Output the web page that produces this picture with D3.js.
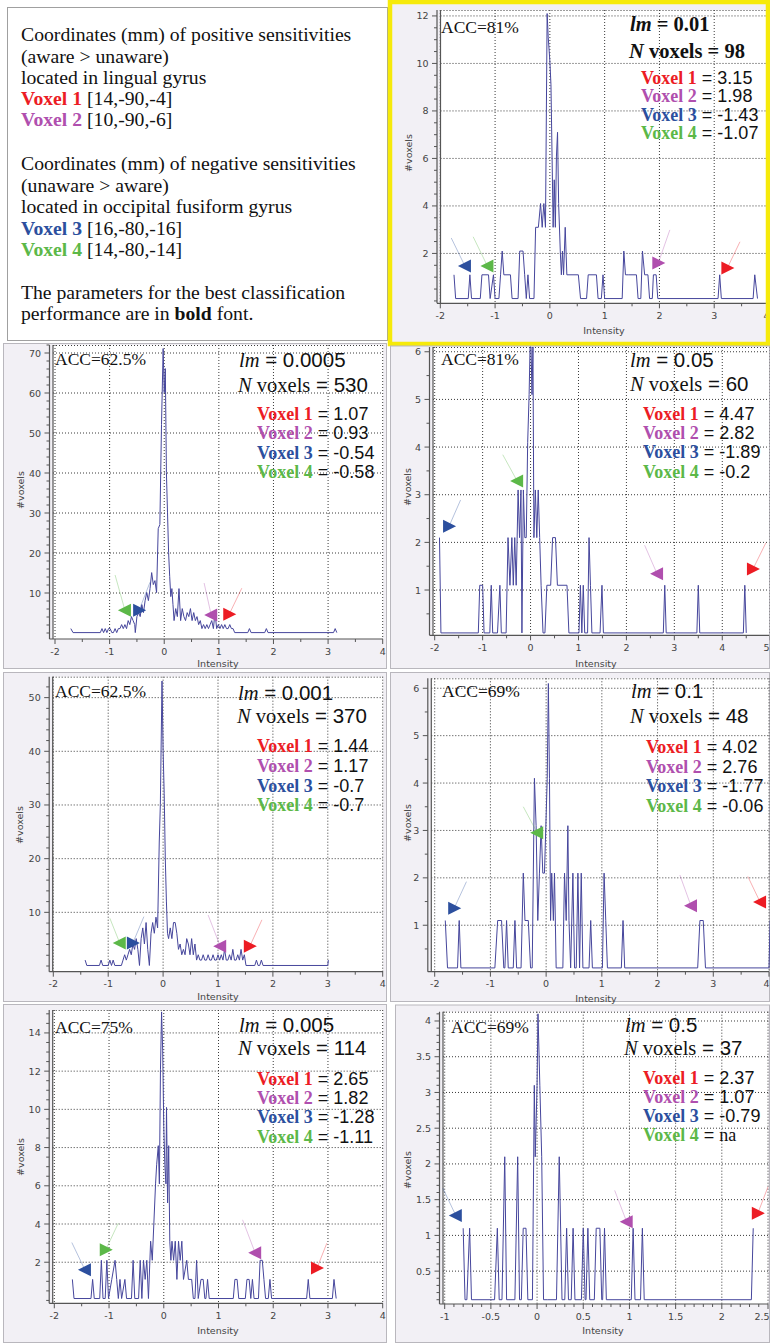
<!DOCTYPE html>
<html><head><meta charset="utf-8">
<script src="https://cdn.jsdelivr.net/npm/d3@7"></script>
<style>
html,body{margin:0;padding:0;background:#fff;}
svg{display:block;}
</style></head><body>
<svg id="chart" width="770" height="1343"></svg>
<script>
// ---------------- DATA ----------------
const voxelNames = ["Voxel 1", "Voxel 2", "Voxel 3", "Voxel 4"];
const voxelCoords = ["[14,-90,-4]", "[10,-90,-6]", "[16,-80,-16]", "[14,-80,-14]"];

const accuracy = ["81%", "62.5%", "81%", "62.5%", "69%", "75%", "69%"];
const lmValues = ["0.01", "0.0005", "0.05", "0.001", "0.1", "0.005", "0.5"];
const nVoxels = ["98", "530", "60", "370", "48", "114", "37"];
const voxel1Values = ["3.15", "1.07", "4.47", "1.44", "4.02", "2.65", "2.37"];
const voxel2Values = ["1.98", "0.93", "2.82", "1.17", "2.76", "1.82", "1.07"];
const voxel3Values = ["-1.43", "-0.54", "-1.89", "-0.7", "-1.77", "-1.28", "-0.79"];
const voxel4Values = ["-1.07", "-0.58", "-0.2", "-0.7", "-0.06", "-1.11", "na"];
const bestPanel = 0;

// tick labels
const xTicksWide = [-2, -1, 0, 1, 2, 3, 4];
const xTicksC = [-2, -1, 0, 1, 2, 3, 4, 5];
const xTicksG = [-1, -0.5, 0, 0.5, 1, 1.5, 2, 2.5];
const yTicksA = [2, 4, 6, 8, 10, 12];
const yTicksB = [10, 20, 30, 40, 50, 60, 70];
const yTicksC = [1, 2, 3, 4, 5, 6];
const yTicksD = [10, 20, 30, 40, 50];
const yTicksE = [1, 2, 3, 4, 5, 6];
const yTicksF = [2, 4, 6, 8, 10, 12, 14];
const yTicksG = [0.5, 1, 1.5, 2, 2.5, 3, 3.5, 4];

// histograms: [intensity, #voxels]
const histA = [[-1.75,1],[-1.72,0],[-1.49,0],[-1.46,1],[-1.43,0],[-1.27,0],[-1.24,1],[-1.12,1],[-1.09,0],[-1.03,1],[-1.00,0],[-0.93,0],[-0.90,1],[-0.87,2],[-0.84,1],[-0.72,1],[-0.69,0],[-0.58,0],[-0.55,2],[-0.49,2],[-0.46,1],[-0.43,0],[-0.40,1],[-0.37,0],[-0.29,0],[-0.26,3],[-0.21,3],[-0.17,4],[-0.14,3],[-0.11,4],[-0.08,3],[-0.05,12],[-0.03,11],[0.00,10],[0.02,9],[0.04,6],[0.06,3],[0.08,5],[0.10,3],[0.12,6],[0.14,7],[0.16,4],[0.19,2],[0.21,1],[0.23,2],[0.25,1],[0.28,3],[0.31,1],[0.52,1],[0.56,0],[0.67,0],[0.70,1],[0.85,1],[0.88,0],[0.94,0],[0.97,1],[1.00,0],[1.32,0],[1.35,2],[1.38,1],[1.43,1],[1.58,1],[1.61,0],[1.66,0],[1.69,2],[1.73,1],[1.79,1],[1.82,0],[1.87,0],[1.89,1],[1.94,1],[1.97,0],[3.07,0],[3.10,1],[3.13,0],[3.71,0],[3.74,1],[3.79,0]];
const histB = [[-1.71,1],[-1.67,0],[-1.17,0],[-1.14,1],[-1.11,0],[-1.08,1],[-1.05,0],[-1.02,1],[-0.99,1],[-0.96,0],[-0.93,0],[-0.90,1],[-0.87,0],[-0.84,1],[-0.81,1],[-0.78,2],[-0.75,1],[-0.72,2],[-0.69,1],[-0.66,3],[-0.63,2],[-0.60,4],[-0.57,3],[-0.54,2],[-0.53,0],[-0.50,4],[-0.47,5],[-0.44,4],[-0.41,7],[-0.38,5],[-0.35,8],[-0.32,10],[-0.29,8],[-0.26,11],[-0.23,15],[-0.20,12],[-0.17,13],[-0.14,10],[-0.11,26],[-0.08,27],[-0.05,52],[-0.02,71],[0.00,60],[0.02,66],[0.04,40],[0.06,30],[0.08,20],[0.10,14],[0.12,9],[0.14,11],[0.16,7],[0.18,3],[0.21,6],[0.24,4],[0.27,11],[0.30,3],[0.33,6],[0.36,4],[0.39,3],[0.42,5],[0.45,4],[0.48,6],[0.51,3],[0.54,5],[0.57,3],[0.60,4],[0.63,2],[0.66,3],[0.69,1],[0.72,2],[0.75,1],[0.78,2],[0.81,1],[0.84,2],[0.87,3],[0.90,1],[0.93,5],[0.96,1],[0.99,2],[1.02,1],[1.05,2],[1.08,1],[1.11,2],[1.14,1],[1.17,1],[1.20,2],[1.23,1],[1.26,1],[1.29,0],[1.53,0],[1.56,1],[1.59,0],[1.84,0],[1.87,1],[1.90,0],[3.10,0],[3.13,1],[3.16,0]];
const histC = [[-1.90,2],[-1.87,0],[-1.09,0],[-1.06,1],[-1.00,1],[-0.97,0],[-0.85,0],[-0.82,1],[-0.79,0],[-0.69,0],[-0.64,1],[-0.61,0],[-0.51,0],[-0.47,2],[-0.43,1],[-0.39,2],[-0.36,1],[-0.33,2],[-0.30,1],[-0.26,3],[-0.23,2],[-0.20,3],[-0.18,0],[-0.15,3],[-0.12,2],[-0.09,2],[-0.06,4],[-0.03,5],[-0.01,6],[0.01,6],[0.03,5],[0.05,6],[0.07,2],[0.10,3],[0.13,2],[0.16,3],[0.19,2],[0.22,1],[0.26,0],[0.30,0],[0.34,1],[0.42,1],[0.46,2],[0.52,2],[0.56,1],[0.76,1],[0.80,0],[1.01,0],[1.04,1],[1.07,0],[1.10,1],[1.13,0],[1.19,0],[1.22,2],[1.25,1],[1.28,0],[1.45,0],[1.49,1],[1.52,0],[2.77,0],[2.80,1],[2.83,0],[3.47,0],[3.50,1],[3.53,0],[4.44,0],[4.47,1],[4.50,0]];
const histD = [[-1.42,1],[-1.39,0],[-1.16,0],[-1.13,1],[-1.10,0],[-1.00,0],[-0.97,1],[-0.94,0],[-0.91,1],[-0.88,0],[-0.76,0],[-0.73,1],[-0.70,2],[-0.67,1],[-0.64,2],[-0.61,3],[-0.58,2],[-0.55,4],[-0.52,3],[-0.49,5],[-0.46,3],[-0.43,0],[-0.40,5],[-0.37,7],[-0.34,4],[-0.31,8],[-0.28,3],[-0.25,0],[-0.22,6],[-0.19,8],[-0.16,6],[-0.13,9],[-0.10,7],[-0.07,23],[-0.05,30],[-0.02,53],[0.00,40],[0.02,32],[0.04,20],[0.06,12],[0.08,6],[0.10,5],[0.13,7],[0.16,5],[0.19,8],[0.22,8],[0.25,6],[0.28,3],[0.31,4],[0.34,2],[0.37,3],[0.40,2],[0.43,5],[0.46,4],[0.49,2],[0.52,5],[0.55,2],[0.58,4],[0.61,1],[0.64,2],[0.67,1],[0.70,1],[0.73,2],[0.76,1],[0.79,1],[0.82,2],[0.85,1],[0.88,1],[0.91,2],[0.94,1],[0.97,1],[1.00,2],[1.03,1],[1.06,2],[1.09,1],[1.12,3],[1.15,1],[1.18,1],[1.21,2],[1.24,1],[1.27,3],[1.30,1],[1.33,1],[1.36,2],[1.39,1],[1.42,3],[1.45,1],[1.48,2],[1.51,0],[1.67,0],[1.70,1],[1.73,0],[1.76,0],[1.79,1],[1.82,0],[3.00,0],[3.01,1]];
const histE = [[-1.81,1],[-1.77,0],[-1.59,0],[-1.56,1],[-1.53,0],[-0.92,0],[-0.87,1],[-0.80,1],[-0.76,0],[-0.74,0],[-0.71,1],[-0.68,0],[-0.59,0],[-0.56,1],[-0.53,0],[-0.45,0],[-0.41,2],[-0.38,1],[-0.32,1],[-0.28,0],[-0.25,0],[-0.21,4],[-0.18,3],[-0.15,1],[-0.12,2],[-0.09,3],[-0.06,2],[-0.03,2],[0.02,4],[0.04,6],[0.06,4],[0.08,1],[0.10,2],[0.13,1],[0.15,2],[0.18,0],[0.30,0],[0.33,2],[0.36,1],[0.39,3],[0.41,1],[0.44,0],[0.48,2],[0.51,0],[0.54,0],[0.57,2],[0.60,0],[0.63,2],[0.66,0],[0.77,0],[0.80,1],[0.83,0],[1.01,0],[1.04,2],[1.07,1],[1.10,0],[1.35,0],[1.38,1],[1.41,0],[2.72,0],[2.76,1],[2.82,1],[2.86,0],[4.00,0],[4.02,1]];
const histF = [[-1.67,1],[-1.64,0],[-1.33,0],[-1.30,1],[-1.27,0],[-1.17,0],[-1.14,2],[-1.11,0],[-1.07,0],[-1.04,2],[-1.01,0],[-0.95,1],[-0.89,2],[-0.86,1],[-0.83,0],[-0.80,1],[-0.77,0],[-0.71,1],[-0.68,0],[-0.59,0],[-0.56,2],[-0.53,0],[-0.46,0],[-0.43,2],[-0.40,0],[-0.37,2],[-0.34,1],[-0.31,2],[-0.28,0],[-0.24,3],[-0.21,2],[-0.18,4],[-0.15,6],[-0.13,7],[-0.10,8],[-0.08,6],[-0.06,12],[-0.04,15],[-0.02,13],[0.00,9],[0.02,7],[0.04,6],[0.05,10],[0.07,5],[0.09,8],[0.11,3],[0.13,2],[0.15,3],[0.18,2],[0.21,3],[0.24,1],[0.27,3],[0.30,2],[0.33,3],[0.36,1],[0.42,2],[0.45,1],[0.51,1],[0.54,0],[0.57,0],[0.60,2],[0.63,0],[0.68,1],[0.72,1],[0.75,0],[0.77,0],[0.80,1],[0.83,0],[1.27,0],[1.30,1],[1.34,1],[1.37,0],[1.49,0],[1.52,1],[1.56,1],[1.59,0],[1.62,1],[1.65,0],[1.73,0],[1.76,2],[1.80,2],[1.83,1],[1.86,0],[1.91,0],[1.94,1],[1.97,0],[2.61,0],[2.64,1],[2.67,0],[3.08,0],[3.11,1],[3.15,0]];
const histG = [[-0.80,1],[-0.78,0],[-0.76,0],[-0.73,1],[-0.71,0],[-0.46,0],[-0.43,1],[-0.41,0],[-0.38,0],[-0.35,2],[-0.33,0],[-0.24,0],[-0.21,2],[-0.19,0],[-0.17,0],[-0.15,1],[-0.12,1],[-0.10,0],[-0.05,0],[-0.03,3],[-0.02,2],[0.00,3],[0.01,4],[0.03,3],[0.05,2],[0.07,0],[0.11,0],[0.21,0],[0.24,2],[0.27,0],[0.30,0],[0.32,1],[0.34,0],[0.37,0],[0.39,1],[0.41,0],[0.48,0],[0.50,1],[0.52,0],[0.53,0],[0.55,1],[0.57,0],[0.62,0],[0.64,1],[0.68,1],[0.70,0],[0.71,0],[0.73,1],[0.75,0],[1.02,0],[1.04,1],[1.06,0],[1.12,0],[1.14,1],[1.16,0],[2.32,0],[2.34,1]];

// voxel arrows: voxel index, arrow head [intensity, #voxels], arrow tail, head direction
const arrowsA = [{v:3, at:[-1.55,1.47], from:[-1.80,2.65], dir:"L"},{v:4, at:[-1.14,1.47], from:[-1.40,2.70], dir:"L"},{v:2, at:[1.98,1.60], from:[2.19,2.99], dir:"R"},{v:1, at:[3.24,1.39], from:[3.47,2.49], dir:"R"}];
const arrowsB = [{v:4, at:[-0.72,5.7], from:[-0.90,14.5], dir:"L"},{v:3, at:[-0.46,5.7], from:[-0.26,12.7], dir:"R"},{v:2, at:[0.86,4.5], from:[0.73,12.5], dir:"L"},{v:1, at:[1.19,4.7], from:[1.42,11.2], dir:"R"}];
const arrowsC = [{v:3, at:[-1.70,2.34], from:[-1.46,2.89], dir:"R"},{v:4, at:[-0.28,3.29], from:[-0.58,3.84], dir:"L"},{v:2, at:[2.64,1.34], from:[2.38,1.94], dir:"L"},{v:1, at:[4.64,1.44], from:[4.91,1.99], dir:"R"}];
const arrowsD = [{v:4, at:[-0.79,4.3], from:[-0.97,8.9], dir:"L"},{v:3, at:[-0.55,4.3], from:[-0.35,9.2], dir:"R"},{v:2, at:[1.04,3.7], from:[0.82,9.5], dir:"L"},{v:1, at:[1.58,3.7], from:[1.80,8.6], dir:"R"}];
const arrowsE = [{v:3, at:[-1.65,1.36], from:[-1.43,1.92], dir:"R"},{v:4, at:[-0.16,2.95], from:[-0.41,3.50], dir:"L"},{v:2, at:[2.60,1.41], from:[2.40,2.06], dir:"L"},{v:1, at:[3.84,1.49], from:[3.62,2.03], dir:"L"}];
const arrowsF = [{v:3, at:[-1.44,1.6], from:[-1.68,3.03], dir:"L"},{v:4, at:[-1.06,2.65], from:[-0.83,4.05], dir:"R"},{v:2, at:[1.67,2.49], from:[1.44,4.22], dir:"L"},{v:1, at:[2.80,1.70], from:[2.98,3.0], dir:"R"}];
const arrowsG = [{v:3, at:[-0.88,1.28], from:[-1.02,1.66], dir:"L"},{v:2, at:[0.97,1.19], from:[0.84,1.63], dir:"L"},{v:1, at:[2.39,1.31], from:[2.50,1.68], dir:"R"}];

// ---------------- LAYOUT / STYLE ----------------
const OFFSET = 0.1; // the source plots draw each count raised by 0.1
const SERIF = "'Liberation Serif','Times New Roman',serif";
const SANS = "'Liberation Sans',Arial,sans-serif";
const TICKFONT = "'DejaVu Sans',Verdana,sans-serif";
const voxelColors = ["#ec1c24", "#b04fae", "#2c4f9e", "#5cb848"];
const panelBg = "#f2f0f5";
const lineColor = "#46469c";

const layout = [
  {bg:[390,2,378,342], xr:[440.3,769], yd:[-0.1,12.25], yr:[303.3,10], axisX:440.5, right:769, xMinor:0.5, yMinor:0.5,
   acc:[441,33.3], lm:[630,30.7], nv:[629,58.3], vox:[641,84,18.4], ylab:[409,153], xlab:[604,331]},
  {bg:[3.5,343.5,383,325], xr:[55,382.7], yd:[-1.5,72], yr:[639,345], axisX:53, right:383, xMinor:0.5, yMinor:2,
   acc:[55,365], lm:[239,367.3], nv:[238,391.7], vox:[257,420,19.4], ylab:[21,490], xlab:[218,664]},
  {bg:[390.5,346,379,322.5], xr:[434.7,770.2], yd:[0.05,6.1], yr:[635.3,347], axisX:433, right:769, xMinor:0.5, yMinor:0.5,
   acc:[441,365], lm:[630,367.3], nv:[630,390.7], vox:[643,420,19.2], ylab:[408,487], xlab:[596,664]},
  {bg:[3.5,672.5,383,329], xr:[53.3,382.7], yd:[-1.06,53.9], yr:[971.7,676.7], axisX:52.7, right:383, xMinor:0.5, yMinor:2,
   acc:[55,696.7], lm:[238,700], nv:[237,722.7], vox:[257,752.3,19.6], ylab:[20,825], xlab:[218,997]},
  {bg:[390.5,672.5,379,329], xr:[434.7,769], yd:[0.02,6.21], yr:[971.7,678.3], axisX:431.3, right:769, xMinor:0.5, yMinor:0.5,
   acc:[442,696.7], lm:[631,698.3], nv:[630,722.7], vox:[646,753.3,19.5], ylab:[408,823], xlab:[596,999]},
  {bg:[3.5,1004.5,383,338], xr:[54.3,382.7], yd:[-0.15,15.2], yr:[1303.3,1010], axisX:52.7, right:383, xMinor:0.5, yMinor:0.5,
   acc:[55,1033.3], lm:[239,1031.7], nv:[238,1055], vox:[257,1085,19.2], ylab:[21,1157], xlab:[218,1331]},
  {bg:[395.5,1005,374,337.5], xr:[444.7,768], yd:[0.04,4.13], yr:[1304,1011.7], axisX:443, right:768, xMinor:0.1, yMinor:0.1,
   acc:[451,1033.3], lm:[625,1031.7], nv:[624,1055], vox:[643,1084,18.9], ylab:[408,1170], xlab:[603,1331]}
];

const xTicksList = [xTicksWide, xTicksWide, xTicksC, xTicksWide, xTicksWide, xTicksWide, xTicksG];
const yTicksList = [yTicksA, yTicksB, yTicksC, yTicksD, yTicksE, yTicksF, yTicksG];
const histList = [histA, histB, histC, histD, histE, histF, histG];
const arrowList = [arrowsA, arrowsB, arrowsC, arrowsD, arrowsE, arrowsF, arrowsG];

const svg = d3.select("#chart");
svg.append("rect").attr("width", 770).attr("height", 1343).attr("fill", "#fff");

// ---------------- INFO BOX ----------------
svg.append("rect").attr("x", 7.5).attr("y", 7.5).attr("width", 380).attr("height", 333)
  .attr("fill", "#fff").attr("stroke", "#a0a0a0");

const infoLines = [
  {y:40.7, segs:[{t:"Coordinates (mm) of positive sensitivities"}]},
  {y:62.5, segs:[{t:"(aware > unaware)"}]},
  {y:83.8, segs:[{t:"located in lingual gyrus"}]},
  {y:105, segs:[{t:voxelNames[0], c:0, b:true}, {t:" " + voxelCoords[0]}]},
  {y:126, segs:[{t:voxelNames[1], c:1, b:true}, {t:" " + voxelCoords[1]}]},
  {y:170, segs:[{t:"Coordinates (mm) of negative sensitivities"}]},
  {y:191.5, segs:[{t:"(unaware > aware)"}]},
  {y:213, segs:[{t:"located in occipital fusiform gyrus"}]},
  {y:234.5, segs:[{t:voxelNames[2], c:2, b:true}, {t:" " + voxelCoords[2]}]},
  {y:256, segs:[{t:voxelNames[3], c:3, b:true}, {t:" " + voxelCoords[3]}]},
  {y:298.5, segs:[{t:"The parameters for the best classification"}]},
  {y:320, segs:[{t:"performance are in "}, {t:"bold", b:true}, {t:" font."}]}
];
infoLines.forEach(L => {
  const tx = svg.append("text").attr("x", 21).attr("y", L.y)
    .attr("font-family", SERIF).attr("font-size", 19.7).attr("fill", "#111");
  L.segs.forEach(s => {
    tx.append("tspan").text(s.t)
      .attr("font-weight", s.b ? "bold" : null)
      .attr("fill", s.c !== undefined ? voxelColors[s.c] : null);
  });
});

// ---------------- PANELS ----------------
function rangeTicks(a, b, step) {
  const out = [];
  const n = Math.round((b - a) / step);
  for (let i = 0; i <= n; i++) out.push(Math.round((a + i * step) * 1000) / 1000);
  return out;
}

layout.forEach((L, i) => {
  const g = svg.append("g");
  const best = i === bestPanel;
  const xt = xTicksList[i], yt = yTicksList[i];
  const x = d3.scaleLinear().domain([xt[0], xt[xt.length - 1]]).range(L.xr);
  const y = d3.scaleLinear().domain(L.yd).range(L.yr);
  const left = L.axisX, right = L.right, top = L.yr[1], bottom = L.yr[0];

  g.append("rect").attr("x", L.bg[0]).attr("y", L.bg[1]).attr("width", L.bg[2]).attr("height", L.bg[3])
    .attr("fill", panelBg).attr("stroke", best ? "none" : "#b9b7bd");

  g.append("rect").attr("x", left).attr("y", top).attr("width", right - left).attr("height", bottom - top)
    .attr("fill", "#fff");

  // dotted grid
  const grid = g.append("g").attr("stroke", "#3a3a3a").attr("stroke-width", 1).attr("stroke-dasharray", "1,2");
  xt.forEach(t => grid.append("line").attr("x1", x(t)).attr("x2", x(t)).attr("y1", top).attr("y2", bottom));
  yt.forEach(t => grid.append("line").attr("x1", left).attr("x2", right).attr("y1", y(t)).attr("y2", y(t)));
  grid.append("line").attr("x1", left).attr("x2", right).attr("y1", top + 0.5).attr("y2", top + 0.5);

  // histogram
  const line = d3.line().x(d => x(d[0])).y(d => y(d[1] + OFFSET));
  g.append("path").datum(histList[i]).attr("d", line)
    .attr("fill", "none").attr("stroke", lineColor).attr("stroke-width", 1);

  // axes
  const ax = g.append("g").attr("stroke", "#555");
  ax.append("line").attr("x1", left - 3.5).attr("x2", right).attr("y1", bottom).attr("y2", bottom).attr("stroke-width", 1.2);
  ax.append("line").attr("x1", left).attr("x2", left).attr("y1", top).attr("y2", bottom).attr("stroke-width", 1.2);
  ax.append("line").attr("x1", left - 3.5).attr("x2", left - 3.5).attr("y1", top).attr("y2", bottom).attr("stroke-width", 1.2);
  rangeTicks(xt[0], xt[xt.length - 1], L.xMinor).forEach(t => {
    const major = xt.some(m => Math.abs(m - t) < 1e-6);
    ax.append("line").attr("x1", x(t)).attr("x2", x(t)).attr("y1", bottom).attr("y2", bottom + (major ? 5 : 3));
  });
  const yStart = Math.ceil(L.yd[0] / L.yMinor - 1e-6) * L.yMinor;
  rangeTicks(yStart, L.yd[1] - 0.01, L.yMinor).filter(t => t <= L.yd[1]).forEach(t => {
    const major = yt.some(m => Math.abs(m - t) < 1e-6);
    ax.append("line").attr("x1", left - 3.5).attr("x2", left - 3.5 - (major ? 5 : 3)).attr("y1", y(t)).attr("y2", y(t));
  });

  const tl = g.append("g").attr("font-family", TICKFONT).attr("font-size", 9.5).attr("fill", "#444");
  xt.forEach(t => {
    const px = x(t);
    const nearEdge = px > 763;
    tl.append("text").attr("x", nearEdge ? 769.5 : px).attr("y", bottom + 15.5)
      .attr("text-anchor", nearEdge ? "end" : "middle").text(String(t));
  });
  yt.forEach(t => tl.append("text").attr("x", left - 12).attr("y", y(t) + 3.5).attr("text-anchor", "end").text(String(t)));
  tl.append("text").attr("x", L.xlab[0]).attr("y", L.xlab[1] + 3).attr("text-anchor", "middle").text("Intensity");
  tl.append("text").attr("transform", `translate(${L.ylab[0] + 3},${L.ylab[1]}) rotate(-90)`)
    .attr("text-anchor", "middle").text("#voxels");

  // arrows
  arrowList[i].forEach(a => {
    const col = voxelColors[a.v - 1];
    const hx = x(a.at[0]), hy = y(a.at[1]);
    g.append("line").attr("x1", x(a.from[0])).attr("y1", y(a.from[1])).attr("x2", hx).attr("y2", hy)
      .attr("stroke", col).attr("stroke-opacity", 0.35).attr("stroke-width", 1);
    const s = a.dir === "L" ? -1 : 1;
    const pts = [[hx + s * 7, hy], [hx - s * 6, hy - 6.5], [hx - s * 6, hy + 6.5]];
    g.append("path").attr("d", "M" + pts.map(p => p.join(",")).join("L") + "Z").attr("fill", col);
  });

  // annotation text
  g.append("text").attr("x", L.acc[0]).attr("y", L.acc[1]).attr("font-family", SERIF)
    .attr("font-size", 17.5).attr("fill", "#111").text("ACC=" + accuracy[i]);

  const lmT = g.append("text").attr("x", L.lm[0]).attr("y", L.lm[1]).attr("font-size", 20.5).attr("fill", "#111");
  const nT = g.append("text").attr("x", L.nv[0]).attr("y", L.nv[1]).attr("font-size", 20.5).attr("fill", "#111");
  if (best) {
    lmT.attr("font-family", SERIF).attr("font-weight", "bold");
    lmT.append("tspan").attr("font-style", "italic").text("lm");
    lmT.append("tspan").text(" = " + lmValues[i]);
    nT.attr("font-family", SERIF).attr("font-weight", "bold");
    nT.append("tspan").attr("font-style", "italic").text("N");
    nT.append("tspan").text(" voxels = " + nVoxels[i]);
  } else {
    lmT.append("tspan").attr("font-family", SERIF).attr("font-style", "italic").text("lm");
    lmT.append("tspan").attr("font-family", SANS).text(" = " + lmValues[i]);
    nT.append("tspan").attr("font-family", SERIF).attr("font-style", "italic").text("N");
    nT.append("tspan").attr("font-family", SERIF).text(" voxels");
    nT.append("tspan").attr("font-family", SANS).text(" = " + nVoxels[i]);
  }

  const vals = [voxel1Values[i], voxel2Values[i], voxel3Values[i], voxel4Values[i]];
  vals.forEach((v, k) => {
    const t = g.append("text").attr("x", L.vox[0]).attr("y", L.vox[1] + k * L.vox[2]).attr("font-size", 18);
    t.append("tspan").attr("font-family", SERIF).attr("font-weight", "bold").attr("fill", voxelColors[k]).text(voxelNames[k]);
    t.append("tspan").attr("font-family", SANS).attr("fill", "#111").text(" = ");
    t.append("tspan").attr("font-family", v === "na" ? SERIF : SANS).attr("fill", "#111").text(v);
  });

  if (best) {
    g.append("rect").attr("x", L.bg[0]).attr("y", L.bg[1]).attr("width", L.bg[2]).attr("height", L.bg[3])
      .attr("fill", "none").attr("stroke", "#f6ea0a").attr("stroke-width", 4.5);
  }
});
</script></body></html>
